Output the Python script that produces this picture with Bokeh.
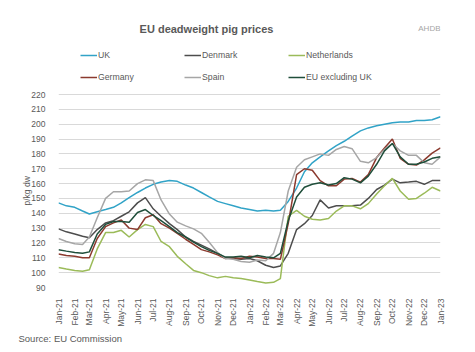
import math
from datetime import datetime
from bokeh.plotting import figure
from bokeh.models import (Range1d, FixedTicker, DatetimeTickFormatter, Title, Label,
                          Legend, LegendItem)
from bokeh.embed import file_html
from bokeh.resources import INLINE

# ---- data (p/kg dw), semi-monthly readings Jan-21 .. Jan-23 ----
dates = []
for yr in (2021, 2022):
    for mo in range(1, 13):
        dates.append(datetime(yr, mo, 1))
        dates.append(datetime(yr, mo, 16))
dates.append(datetime(2023, 1, 1))

uk = [147, 145, 144, 141.5, 139.5, 141, 142.5, 144, 147, 150.5, 154, 157, 159.5, 161, 162, 161.5,
      159, 157, 154, 151, 148, 146.5, 145, 143.5, 142.5, 141.5, 142, 141.5, 142, 148, 157, 168,
      174, 178, 182, 185.5, 188.5, 192, 195.5, 197.5, 199, 200, 201, 201.5, 201.5, 202.5, 202.5, 203, 205]
denmark = [129.5, 127.5, 126, 124.5, 123.5, 129, 133.5, 135, 138, 141, 147, 150.5, 143, 138, 133, 129,
           124, 121, 118.5, 116, 113, 110, 109.5, 109, 109.5, 108, 105, 103.5, 104.5, 113, 129, 133,
           138.5, 149, 143.5, 145, 145, 145, 145.5, 150, 156, 159, 163, 160.5, 161, 161.5, 159.5, 162, 162]
netherlands = [103.5, 102.5, 101.5, 101, 102, 116, 127, 127, 128.5, 124, 129, 132.5, 131, 121, 117.5, 111,
               106, 101.5, 100, 98, 96.5, 97.5, 96.5, 96, 95, 94, 93, 93.5, 96, 138, 142, 138,
               136, 135.5, 136.5, 141.5, 145, 145, 143, 146.5, 153, 158.5, 163.5, 155, 149.5, 150, 153.5, 157.5, 155]
germany = [112.5, 111.5, 111, 110, 110, 123, 131, 133.5, 135.5, 130, 129, 137, 139, 133, 130, 126.5,
           122.5, 119, 115.5, 114, 112, 109.5, 110, 109.5, 111, 110.5, 109.5, 109.5, 109, 133, 166, 170,
           169, 162, 158.5, 158.5, 163, 163.5, 161, 166, 177.5, 184, 190, 177, 173, 172.5, 176, 180.5, 184]
spain = [123, 121, 119.5, 119, 124, 137, 150, 154.5, 154.5, 155, 160, 162.5, 162, 149, 139.5, 134,
         131.5, 129.5, 126.5, 120.5, 113.5, 109.5, 109, 107.5, 107, 108.5, 108, 113, 127, 155, 171, 176,
         178, 180, 179, 183, 185, 183.5, 175, 174, 177.5, 183, 187, 182, 179, 179, 174, 173, 178]
eu_ex_uk = [115.5, 114.5, 113.5, 113, 114, 126, 132.5, 134.5, 134.5, 134, 140.5, 142.5, 138.5, 135, 131, 127,
            124, 120.5, 117.5, 115, 113, 110.5, 110.5, 111, 110, 111.5, 110.5, 110, 113, 135, 151, 157.5,
            159.5, 160.5, 159, 160, 164, 163, 160.5, 165, 173, 182, 187, 178, 173, 173, 174.5, 177, 178]

series_names = ["UK", "Denmark", "Netherlands", "Germany", "Spain", "EU excluding UK"]
series_values = [uk, denmark, netherlands, germany, spain, eu_ex_uk]
series_colors = ["#31a3c7", "#4d4d4d", "#9bbb59", "#8b3a2e", "#a6a6a6", "#1f4e3a"]

y_ticks = list(range(90, 221, 10))
month_ticks = [datetime(2021 + (i // 12), (i % 12) + 1, 1) for i in range(25)]

TXT = "#595959"
FONT = "Liberation Sans"

# layout geometry (pixels)
W, H = 475, 352
FR_L, FR_R, FR_T, FR_B = 58, 440, 10, 287     # frame edges
Y220_PX = 94                                   # where the 220 gridline sits
px_per_unit = (FR_B - Y220_PX) / (220 - 90)
y_end = 220 + (Y220_PX - FR_T) / px_per_unit

x_start = datetime(2021, 1, 1)
x_end = datetime(2023, 1, 1)

p = figure(width=W, height=H, x_axis_type="datetime",
           x_range=Range1d(x_start, x_end), y_range=Range1d(90, y_end),
           output_backend="svg", toolbar_location=None,
           min_border_left=FR_L, min_border_right=W - FR_R, min_border_top=FR_T,
           min_border_bottom=H - FR_B)
p.outline_line_color = None
p.background_fill_color = "white"
p.border_fill_color = "white"

renderers = []
for name, vals, col in zip(series_names, series_values, series_colors):
    r = p.line(dates, vals, line_color=col, line_width=1.5)
    renderers.append(r)

# axes
p.xgrid.grid_line_color = None
p.ygrid.grid_line_color = "#d9d9d9"
p.ygrid.grid_line_width = 1
p.yaxis.ticker = FixedTicker(ticks=y_ticks)
p.xaxis.ticker = FixedTicker(ticks=[d.timestamp() * 1000 for d in month_ticks])
fmt = "%b-%y"
p.xaxis.formatter = DatetimeTickFormatter(microseconds=fmt, milliseconds=fmt, seconds=fmt,
                                          minsec=fmt, minutes=fmt, hourmin=fmt, hours=fmt,
                                          days=fmt, months=fmt, years=fmt)
p.xaxis.major_label_orientation = math.pi / 2
for ax in (p.xaxis, p.yaxis):
    ax.axis_line_color = None
    ax.major_tick_line_color = None
    ax.minor_tick_line_color = None
    ax.major_label_text_color = TXT
    ax.major_label_text_font = FONT
    ax.major_label_text_font_size = "8.5px"
p.yaxis.major_label_standoff = 7
p.xaxis.major_label_standoff = 5

# y axis title as a vertical title in the left panel
ylab = Title(text="p/kg dw", align="left", offset=(FR_B - 190) - 15,
             text_font=FONT, text_font_size="8.5px", text_font_style="normal",
             text_color=TXT, standoff=-6)
p.add_layout(ylab, "left")

# texts inside the (tall) frame, in screen units relative to frame bottom-left
def lab(x, y, text, size, **kw):
    color = kw.pop("color", TXT)
    p.add_layout(Label(x=x - FR_L, y=FR_B - y, x_units="screen", y_units="screen", text=text,
                       text_font=FONT, text_font_size=size, text_color=color, **kw))

lab(206, 28, "EU deadweight pig prices", "11px", text_font_style="bold",
    text_align="center", text_baseline="middle")
lab(440, 28, "AHDB", "8px", color="#a6a6a6", text_align="right", text_baseline="middle")

# legend: two rows of three
for row, yc in ((0, 55), (1, 77)):
    items = [LegendItem(label=series_names[row * 3 + i], renderers=[renderers[row * 3 + i]])
             for i in range(3)]
    leg = Legend(items=items, orientation="horizontal",
                 location=(80 - FR_L, FR_B - (yc + 6)),
                 glyph_width=17, glyph_height=12, label_height=12, label_width=86,
                 label_standoff=1, spacing=0, padding=0, margin=0,
                 border_line_color=None, background_fill_alpha=0,
                 label_text_font=FONT, label_text_font_size="8.7px", label_text_color=TXT)
    p.add_layout(leg, "center")

source = Title(text="Source: EU Commission", align="left", offset=-40,
               text_font=FONT, text_font_size="9.5px", text_font_style="normal",
               text_color=TXT, standoff=2)
p.add_layout(source, "below")

open("out.html", "w").write(file_html(p, INLINE))
